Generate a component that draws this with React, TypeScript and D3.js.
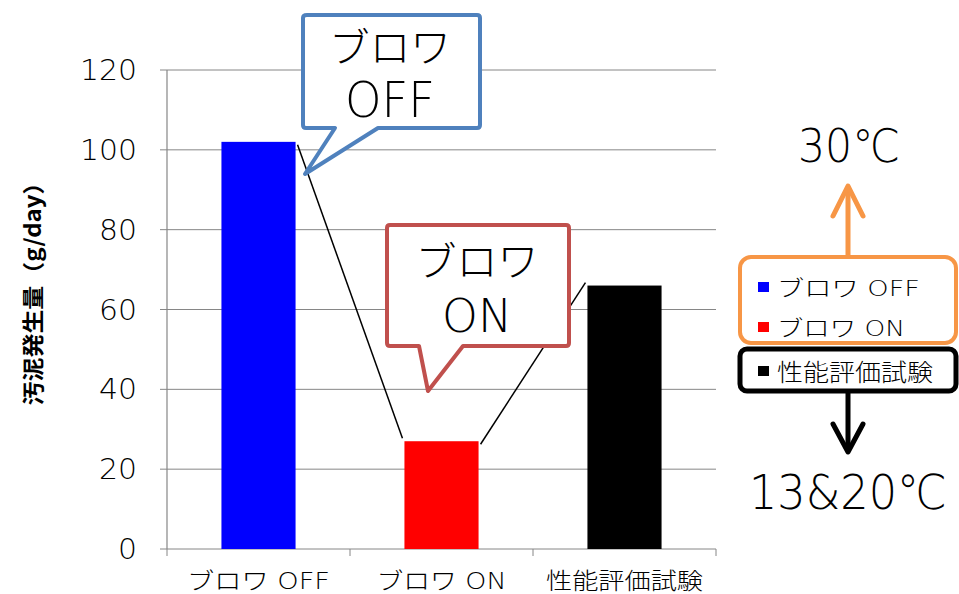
import React from "react";
import * as d3 from "d3";

const categories = ["ブロワ OFF", "ブロワ ON", "性能評価試験"];
const values = [102, 27, 66];
const barColors = ["#0000FF", "#FF0000", "#000000"];
const yTicks = [0, 20, 40, 60, 80, 100, 120];
const yTitle = "汚泥発生量（g/day）";
const legendItems = ["ブロワ OFF", "ブロワ ON", "性能評価試験"];
const calloutOff = ["ブロワ", "OFF"];
const calloutOn = ["ブロワ", "ON"];
const upLabel = "30℃";
const downLabel = "13&20℃";

const FONT = "'DejaVu Sans', 'Noto Sans CJK JP', sans-serif";
const LW = 200;

export default function App() {
  const W = 959, H = 594;
  const left = 167, right = 716, top = 70, bottom = 549;
  const x = d3.scaleBand<string>().domain(categories).range([left, right]).paddingInner(0.595).paddingOuter(0.2975);
  const y = d3.scaleLinear().domain([0, 120]).range([bottom, top]);
  const band = (right - left) / categories.length;
  const bw = x.bandwidth();

  const seriesLines = values.slice(0, -1).map((v, i) => ({
    x1: (x(categories[i]) as number) + bw + 2,
    y1: y(v) + 3,
    x2: (x(categories[i + 1]) as number) - 2,
    y2: y(values[i + 1]) - 3,
  }));

  const catLen = [143, 130, 157];
  const legLen = [143, 128, 156];
  const orange = "#F79646";
  return (
    <svg width={W} height={H} style={{ position: "absolute", left: 0, top: 0, background: "#fff" }} fontFamily={FONT}>
      {yTicks.map((t) => (
        <line key={"g" + t} x1={left} x2={right} y1={y(t)} y2={y(t)} stroke="#868686" strokeWidth={1} />
      ))}
      <line x1={left} x2={left} y1={top} y2={bottom} stroke="#868686" strokeWidth={1.2} />
      {yTicks.map((t) => (
        <g key={"t" + t}>
          <line x1={left - 7} x2={left} y1={y(t)} y2={y(t)} stroke="#868686" />
          <text
            x={137}
            y={y(t) + 10}
            textAnchor="end"
            fontSize={28}
            fontWeight={LW}
            fill="#000"
            textLength={String(t).length * 19}
            lengthAdjust="spacingAndGlyphs"
          >
            {t}
          </text>
        </g>
      ))}
      {d3.range(categories.length + 1).map((i) => (
        <line key={"xt" + i} x1={left + i * band} x2={left + i * band} y1={bottom} y2={bottom + 7} stroke="#868686" />
      ))}
      {categories.map((c, i) => (
        <rect key={c} x={x(c)} y={y(values[i])} width={bw} height={bottom - y(values[i])} fill={barColors[i]} />
      ))}
      {seriesLines.map((l, i) => (
        <line key={"sl" + i} {...l} stroke="#000" strokeWidth={1.5} />
      ))}
      {categories.map((c, i) => (
        <text
          key={"cl" + c}
          x={(x(c) as number) + bw / 2}
          y={589}
          textAnchor="middle"
          fontSize={23}
          fontWeight={LW}
          textLength={catLen[i]}
          lengthAdjust="spacingAndGlyphs"
        >
          {c}
        </text>
      ))}
      <text
        transform="translate(41,288) rotate(-90)"
        textAnchor="middle"
        fontSize={22}
        fontWeight={700}
        fontFamily="'Noto Sans CJK JP', sans-serif"
        textLength={235}
        lengthAdjust="spacingAndGlyphs"
      >
        {yTitle}
      </text>

      <path
        d="M307,15 H477 Q480,15 480,18 V125 Q480,128 477,128 H378 L305,174 L335,128 H306 Q303,128 303,125 V18 Q303,15 307,15 Z"
        fill="#fff"
        stroke="#4F81BD"
        strokeWidth={4}
        strokeLinejoin="round"
      />
      <text x={390} y={62} textAnchor="middle" fontSize={40} fontWeight={LW} textLength={122} lengthAdjust="spacingAndGlyphs">
        {calloutOff[0]}
      </text>
      <text x={390} y={117} textAnchor="middle" fontSize={50} fontWeight={LW} textLength={90} lengthAdjust="spacingAndGlyphs">
        {calloutOff[1]}
      </text>

      <path
        d="M390,225 H566 Q569,225 569,228 V343 Q569,346 566,346 H463 L428,391 L419,346 H390 Q387,346 387,343 V228 Q387,225 390,225 Z"
        fill="#fff"
        stroke="#C0504D"
        strokeWidth={4}
        strokeLinejoin="round"
      />
      <text x={477} y={276} textAnchor="middle" fontSize={40} fontWeight={LW} textLength={123} lengthAdjust="spacingAndGlyphs">
        {calloutOn[0]}
      </text>
      <text x={477} y={332} textAnchor="middle" fontSize={47} fontWeight={LW} textLength={70} lengthAdjust="spacingAndGlyphs">
        {calloutOn[1]}
      </text>

      <line x1={848} x2={848} y1={256} y2={188} stroke={orange} strokeWidth={5} strokeLinecap="round" />
      <polyline points="833,216 848,186 863,216" fill="none" stroke={orange} strokeWidth={5} strokeLinecap="round" strokeLinejoin="round" />
      <text x={849} y={162} textAnchor="middle" fontSize={46} fontWeight={LW} textLength={102} lengthAdjust="spacingAndGlyphs">
        {upLabel}
      </text>

      <line x1={848} x2={848} y1={392} y2={450} stroke="#000" strokeWidth={5} strokeLinecap="round" />
      <polyline points="833,424 848,452 863,424" fill="none" stroke="#000" strokeWidth={5} strokeLinecap="round" strokeLinejoin="round" />
      <text x={848} y={509} textAnchor="middle" fontSize={48} fontWeight={LW} textLength={198} lengthAdjust="spacingAndGlyphs">
        {downLabel}
      </text>

      <rect x={740} y={257} width={216} height={86} rx={11} fill="#fff" stroke={orange} strokeWidth={4} />
      <rect x={740} y={349} width={216} height={42} rx={7} fill="#fff" stroke="#000" strokeWidth={5} />
      {legendItems.map((t, i) => {
        const cy = [287, 327, 371][i];
        const base = [296, 336, 381][i];
        return (
          <g key={"lg" + t}>
            <rect x={758} y={cy - 5} width={11} height={10} fill={barColors[i]} />
            <text
              x={777}
              y={base}
              fontSize={i === 2 ? 24 : 22}
              fontWeight={LW}
              textLength={legLen[i]}
              lengthAdjust="spacingAndGlyphs"
            >
              {t}
            </text>
          </g>
        );
      })}
    </svg>
  );
}
